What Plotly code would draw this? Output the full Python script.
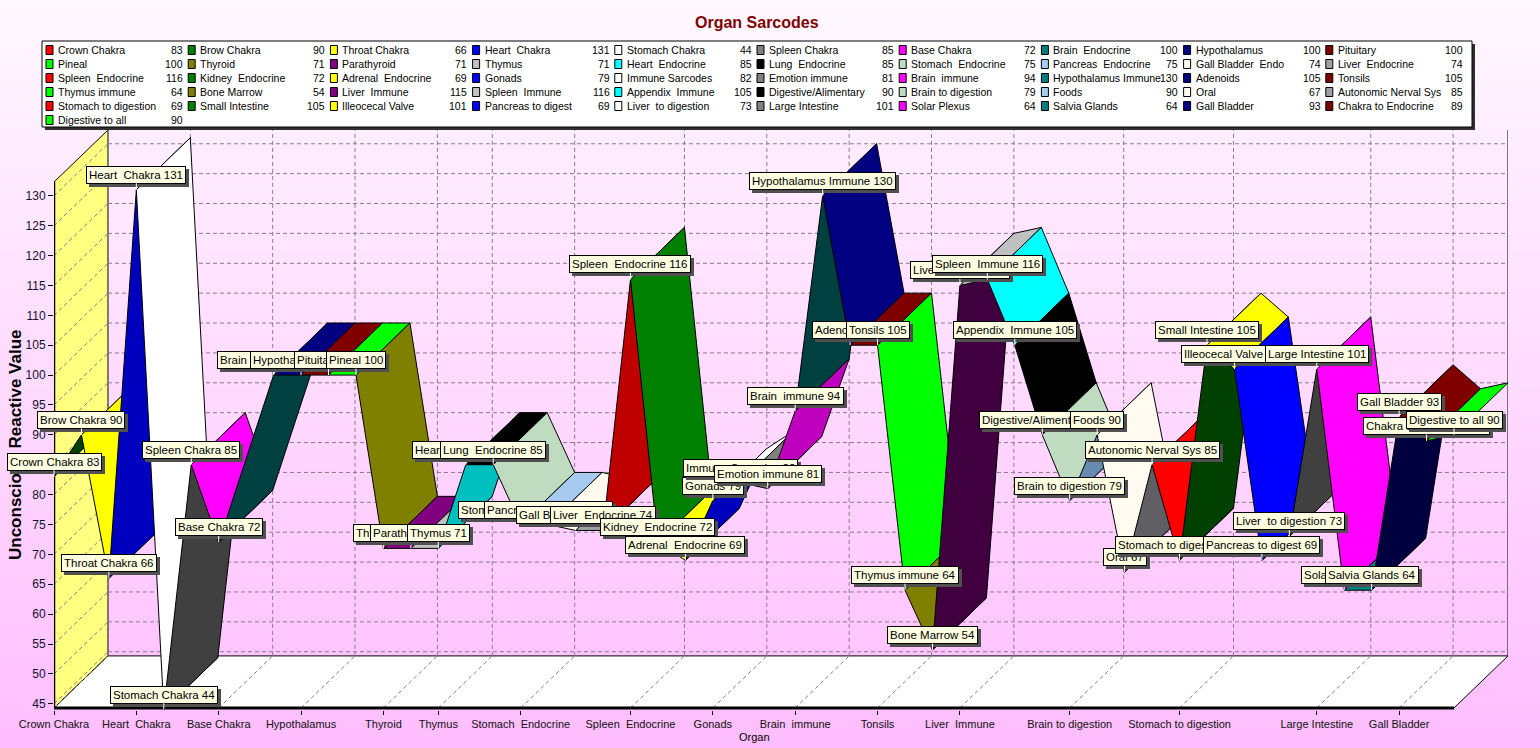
import plotly.graph_objects as go

# ---------------- data ----------------
organs = [
    "Crown Chakra", "Brow Chakra", "Throat Chakra", "Heart  Chakra", "Stomach Chakra",
    "Spleen Chakra", "Base Chakra", "Brain  Endocrine", "Hypothalamus", "Pituitary",
    "Pineal", "Thyroid", "Parathyroid", "Thymus", "Heart  Endocrine",
    "Lung  Endocrine", "Stomach  Endocrine", "Pancreas  Endocrine", "Gall Bladder  Endo", "Liver  Endocrine",
    "Spleen  Endocrine", "Kidney  Endocrine", "Adrenal  Endocrine", "Gonads", "Immune Sarcodes",
    "Emotion immune", "Brain  immune", "Hypothalamus Immune", "Adenoids", "Tonsils",
    "Thymus immune", "Bone Marrow", "Liver  Immune", "Spleen  Immune", "Appendix  Immune",
    "Digestive/Alimentary", "Brain to digestion", "Foods", "Oral", "Autonomic Nerval Sys",
    "Stomach to digestion", "Small Intestine", "Illeocecal Valve", "Pancreas to digest", "Liver  to digestion",
    "Large Intestine", "Solar Plexus", "Salvia Glands", "Gall Bladder", "Chakra to Endocrine",
    "Digestive to all",
]
values = [
    83, 90, 66, 131, 44, 85, 72, 100, 100, 100,
    100, 71, 71, 71, 85, 85, 75, 75, 74, 74,
    116, 72, 69, 79, 82, 81, 94, 130, 105, 105,
    64, 54, 115, 116, 105, 90, 79, 90, 67, 85,
    69, 105, 101, 69, 73, 101, 64, 64, 93, 89,
    90,
]
# category slot of each organ on the x axis (slot 7 is empty in the original chart)
positions = [0, 1, 2, 3, 4, 5, 6] + list(range(8, 52))

tick_positions = [0, 3, 6, 9, 12, 14, 17, 21, 24, 27, 30, 33, 37, 41, 46, 49]
tick_labels = [
    "Crown Chakra", "Heart  Chakra", "Base Chakra", "Hypothalamus", "Thyroid", "Thymus",
    "Stomach  Endocrine", "Spleen  Endocrine", "Gonads", "Brain  immune", "Tonsils",
    "Liver  Immune", "Brain to digestion", "Stomach to digestion", "Large Intestine", "Gall Bladder",
]
y_ticks = list(range(45, 131, 5))

palette = [
    "#FF0000", "#008000", "#FFFF00", "#0000FF", "#FFFFFF", "#808080", "#FF00FF", "#008080", "#000080", "#800000",
    "#00FF00", "#808000", "#800080", "#C0C0C0", "#00FFFF", "#000000", "#C0DCC0", "#A6CAF0", "#FFFBF0", "#A0A0A4",
]

# ---------------- geometry / style ----------------
W, H = 1540, 748
ML, MR, MT, MB = 54, 32, 130, 38
PW, PH = W - ML - MR, H - MT - MB
DX, DY = 1.966, 8.71            # 3-D depth offset (category units, value units)
X_END = max(positions)
FLOOR, Y_TOP = 44.3, 132.3      # front floor level and front axis top
AX_LO = 43.96                   # axis lower bound (a hair below the floor)
FONT = "Liberation Sans, Arial, sans-serif"
GRID = "#8a7a8a"


def xp(pix):
    return (pix - ML) / PW


def yp(pix):
    return (H - MB - pix) / PH


def darken(hexc, amt=64):
    r, g, b = (int(hexc[i:i + 2], 16) for i in (1, 3, 5))
    return "#%02X%02X%02X" % (max(0, r - amt), max(0, g - amt), max(0, b - amt))


fig = go.Figure()

# ribbons (painted left to right)
for j in range(1, len(values)):
    x0, v0 = positions[j - 1], values[j - 1]
    x1, v1 = positions[j], values[j]
    slope = (v1 - v0) / (x1 - x0)
    base = palette[j % len(palette)]
    col = darken(base) if slope > DY / DX else base
    fig.add_trace(go.Scatter(
        x=[x0, x1, x1 + DX, x0 + DX, x0],
        y=[v0, v1, v1 + DY, v0 + DY, v0],
        mode="lines", fill="toself", fillcolor=col,
        line=dict(color="#000000", width=1),
        hoverinfo="skip", showlegend=False,
    ))

shapes = []
# background gradient
NB = 60
for i in range(NB):
    t = i / (NB - 1)
    g = round(248 - (248 - 190) * t)
    shapes.append(dict(type="rect", xref="paper", yref="paper", layer="below",
                       x0=xp(0), x1=xp(W), y0=yp(H * (i + 1) / NB + 1), y1=yp(H * i / NB),
                       fillcolor="rgb(255,%d,255)" % g, line=dict(width=0)))
# left wall
shapes.append(dict(type="path", layer="below", xref="x", yref="y",
                   path=f"M 0,{FLOOR} L {DX},{FLOOR + DY} L {DX},{Y_TOP + DY} L 0,{Y_TOP} Z",
                   fillcolor="#FFFF80", line=dict(color="#000000", width=1)))
# floor
shapes.append(dict(type="path", layer="below", xref="x", yref="y",
                   path=f"M 0,{FLOOR} L {X_END},{FLOOR} L {X_END + DX},{FLOOR + DY} L {DX},{FLOOR + DY} Z",
                   fillcolor="#FFFFFF", line=dict(color="#000000", width=1)))
# back wall right edge
shapes.append(dict(type="line", layer="below", xref="x", yref="y",
                   x0=X_END + DX, x1=X_END + DX, y0=FLOOR + DY, y1=Y_TOP + DY,
                   line=dict(color="#000000", width=1)))
dash = dict(color=GRID, width=1, dash="4px,3px")
for v in y_ticks:
    shapes.append(dict(type="line", layer="below", xref="x", yref="y",
                       x0=DX, x1=X_END + DX, y0=v + DY, y1=v + DY, line=dash))
    shapes.append(dict(type="line", layer="below", xref="x", yref="y",
                       x0=0, x1=DX, y0=v, y1=v + DY, line=dash))
for p in tick_positions:
    shapes.append(dict(type="line", layer="below", xref="x", yref="y",
                       x0=p + DX, x1=p + DX, y0=FLOOR + DY, y1=Y_TOP + DY, line=dash))
    shapes.append(dict(type="line", layer="below", xref="x", yref="y",
                       x0=p, x1=p + DX, y0=FLOOR, y1=FLOOR + DY, line=dash))
# front axis lines
shapes.append(dict(type="line", layer="above", xref="x", yref="y",
                   x0=0, x1=0, y0=FLOOR, y1=Y_TOP, line=dict(color="#000000", width=2.5)))
shapes.append(dict(type="line", layer="above", xref="x", yref="y",
                   x0=0, x1=X_END, y0=FLOOR, y1=FLOOR, line=dict(color="#000000", width=3)))

# legend box
LX0, LX1, LY0, LY1 = 42, 1472, 41, 127
shapes.append(dict(type="rect", xref="paper", yref="paper", layer="above",
                   x0=xp(LX0 + 3), x1=xp(LX1 + 3), y0=yp(LY1 + 3), y1=yp(LY0 + 3),
                   fillcolor="#303030", line=dict(width=0)))
shapes.append(dict(type="rect", xref="paper", yref="paper", layer="above",
                   x0=xp(LX0), x1=xp(LX1), y0=yp(LY1), y1=yp(LY0),
                   fillcolor="#FFFFFF", line=dict(color="#000000", width=1)))

annotations = []
# axis titles and chart title
annotations.append(dict(xref="paper", yref="paper", x=xp(15), y=yp(445), showarrow=False,
                        xanchor="center", yanchor="middle",
                        text="<b>Unconscious Reactive Value</b>", textangle=-90,
                        font=dict(family=FONT, size=17, color="#000000")))
annotations.append(dict(xref="paper", yref="paper", x=xp(757), y=yp(22), showarrow=False,
                        xanchor="center", yanchor="middle",
                        text="<b>Organ Sarcodes</b>",
                        font=dict(family=FONT, size=16, color="#800000")))
annotations.append(dict(xref="paper", yref="paper", x=xp(754), y=yp(737), showarrow=False,
                        xanchor="center", yanchor="middle",
                        text="Organ", font=dict(family=FONT, size=11, color="#000000")))

# legend entries
for k, (name, val) in enumerate(zip(organs, values)):
    r, c = divmod(k, 10)
    cx = 46 + 142.2 * c
    ry = 50 + 14 * r
    shapes.append(dict(type="rect", xref="paper", yref="paper", layer="above",
                       x0=xp(cx), x1=xp(cx + 7), y0=yp(ry + 4.5), y1=yp(ry - 4.5),
                       fillcolor=palette[k % len(palette)], line=dict(color="#000000", width=1)))
    annotations.append(dict(xref="paper", yref="paper", x=xp(cx + 10), y=yp(ry), showarrow=False,
                            xanchor="left", yanchor="middle", text=name,
                            font=dict(family=FONT, size=10.5, color="#000000")))
    annotations.append(dict(xref="paper", yref="paper", x=xp(cx + 139), y=yp(ry), showarrow=False,
                            xanchor="right", yanchor="middle", text=str(val),
                            font=dict(family=FONT, size=10.5, color="#000000")))

# point labels
for name, val, pos in zip(organs, values, positions):
    txt = f"{name} {val}"
    annotations.append(dict(x=pos, y=val, xref="x", yref="y", text=txt, showarrow=False,
                            xanchor="center", yanchor="middle", xshift=3, yshift=12,
                            bgcolor="#505050", bordercolor="#505050", borderwidth=1, borderpad=2,
                            font=dict(family=FONT, size=11.5, color="#505050")))
    annotations.append(dict(x=pos, y=val, xref="x", yref="y", text=txt, showarrow=True,
                            arrowhead=0, arrowwidth=1, arrowcolor="#FFFFFF", ax=0, ay=-15,
                            bgcolor="#FFFFE1", bordercolor="#000000", borderwidth=1, borderpad=2,
                            font=dict(family=FONT, size=11.5, color="#000000")))

fig.update_layout(
    width=W, height=H,
    margin=dict(l=ML, r=MR, t=MT, b=MB, pad=0),
    paper_bgcolor="#FFE0FF", plot_bgcolor="rgba(0,0,0,0)",
    showlegend=False,
    shapes=shapes, annotations=annotations,
    xaxis=dict(range=[0, X_END + DX], showgrid=False, zeroline=False, showline=False,
               tickmode="array", tickvals=tick_positions, ticktext=tick_labels, tickangle=0,
               ticks="outside", ticklen=4, tickcolor="#000000",
               tickfont=dict(family=FONT, size=11, color="#101010"), fixedrange=True),
    yaxis=dict(range=[AX_LO, Y_TOP + DY], showgrid=False, zeroline=False, showline=False,
               tickmode="array", tickvals=y_ticks, ticks="outside", ticklen=5, tickcolor="#000000",
               tickfont=dict(family=FONT, size=12, color="#101030"), fixedrange=True),
)

fig.write_html("out.html", config={"displayModeBar": False},
               post_script="document.body.style.margin='0';document.body.style.overflow='hidden';")
